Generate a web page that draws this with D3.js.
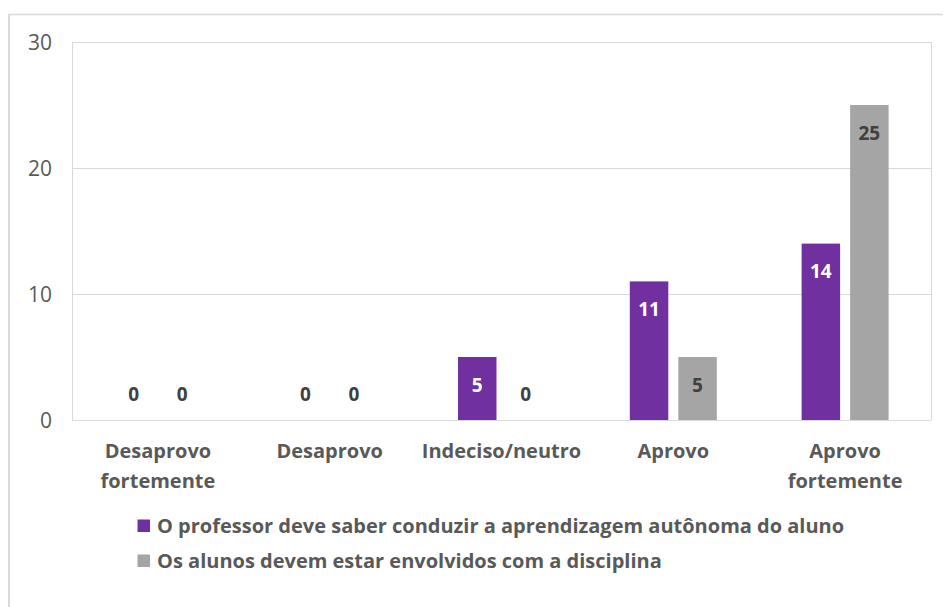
<!DOCTYPE html>
<html>
<head>
<meta charset="utf-8">
<script src="https://cdn.jsdelivr.net/npm/d3@7"></script>
<style>
  html, body { margin: 0; padding: 0; background: #fff; }
  svg { display: block; font-family: "Open Sans", sans-serif; }
</style>
</head>
<body>
<svg id="chart" width="947" height="607"></svg>
<script>
// Response categories (Likert scale)
const categories = [
  ["Desaprovo", "fortemente"],
  ["Desaprovo"],
  ["Indeciso/neutro"],
  ["Aprovo"],
  ["Aprovo", "fortemente"]
];
const seriesNames = [
  "O professor deve saber conduzir a aprendizagem autônoma do aluno",
  "Os alunos devem estar envolvidos com a disciplina"
];
const professorValues = [0, 0, 5, 11, 14];
const alunosValues = [0, 0, 0, 5, 25];
const yTicks = [0, 10, 20, 30];

const colors = ["#7030A0", "#A5A5A5"];
const labelColors = ["#FFFFFF", "#404040"];

const svg = d3.select("#chart");
const W = 947, H = 607;

// chart frame (top and left edges)
svg.append("line").attr("x1", 9).attr("x2", 943).attr("y1", 14.5).attr("y2", 14.5)
  .attr("stroke", "#d9d9d9").attr("stroke-width", 1.5);
svg.append("line").attr("x1", 9).attr("x2", 9).attr("y1", 14).attr("y2", H)
  .attr("stroke", "#d9d9d9").attr("stroke-width", 2);

const plot = { left: 72, right: 931, top: 42, bottom: 420 };

const x0 = d3.scaleBand()
  .domain(d3.range(categories.length))
  .range([plot.left, plot.right])
  .paddingInner(0).paddingOuter(0);

const barW = 38.5, gap = 10;
const x1 = d3.scaleOrdinal().domain([0, 1]).range([-(barW + gap / 2), gap / 2]);

const y = d3.scaleLinear().domain([0, 30]).range([plot.bottom, plot.top]);

// gridlines
svg.append("g").selectAll("line").data(yTicks).join("line")
  .attr("x1", plot.left).attr("x2", plot.right)
  .attr("y1", d => Math.round(y(d)) + 0.5).attr("y2", d => Math.round(y(d)) + 0.5)
  .attr("stroke", "#d9d9d9").attr("stroke-width", 1);

// plot area sides
[plot.left, plot.right].forEach(xx => {
  svg.append("line").attr("x1", xx + 0.5).attr("x2", xx + 0.5)
    .attr("y1", plot.top).attr("y2", plot.bottom)
    .attr("stroke", "#d9d9d9").attr("stroke-width", 1);
});

// y axis labels
const yAxis = d3.axisLeft(y).tickValues(yTicks).tickSize(0).tickPadding(0);
const yg = svg.append("g").attr("transform", `translate(${52},0)`).call(yAxis);
yg.select(".domain").remove();
yg.selectAll("text").attr("font-size", 21).attr("fill", "#595959")
  .attr("font-family", "Open Sans, sans-serif").attr("dy", "0.35em");

// bars
const series = [professorValues, alunosValues];
series.forEach((vals, s) => {
  const g = svg.append("g");
  g.selectAll("rect").data(vals).join("rect")
    .attr("x", (d, i) => x0(i) + x0.bandwidth() / 2 + x1(s))
    .attr("y", d => y(d))
    .attr("width", barW)
    .attr("height", d => y(0) - y(d))
    .attr("fill", colors[s]);
  g.selectAll("text").data(vals).join("text")
    .attr("x", (d, i) => x0(i) + x0.bandwidth() / 2 + x1(s) + barW / 2)
    .attr("y", d => d === 0 ? y(0) - 26 : y(d) + 28)
    .attr("dy", "0.35em")
    .attr("text-anchor", "middle")
    .attr("font-size", 19)
    .attr("font-weight", 700)
    .attr("fill", d => d === 0 ? "#404040" : labelColors[s])
    .text(d => d);
});

// category labels
const cg = svg.append("g");
categories.forEach((lines, i) => {
  const t = cg.append("text")
    .attr("x", x0(i) + x0.bandwidth() / 2)
    .attr("y", 451)
    .attr("text-anchor", "middle")
    .attr("font-size", 20)
    .attr("font-weight", 700)
    .attr("fill", "#595959");
  lines.forEach((ln, k) => {
    t.append("tspan").attr("x", x0(i) + x0.bandwidth() / 2)
      .attr("y", 451 + k * 30).attr("dy", "0.35em").text(ln);
  });
});

// legend
const lg = svg.append("g");
seriesNames.forEach((name, s) => {
  const cy = 526 + s * 35;
  lg.append("rect").attr("x", 137.5).attr("y", cy - 6.5).attr("width", 12.5).attr("height", 12.5)
    .attr("fill", colors[s]);
  lg.append("text").attr("x", 157).attr("y", cy).attr("dy", "0.35em")
    .attr("font-size", 20).attr("font-weight", 700).attr("fill", "#595959")
    .text(name);
});
</script>
</body>
</html>
